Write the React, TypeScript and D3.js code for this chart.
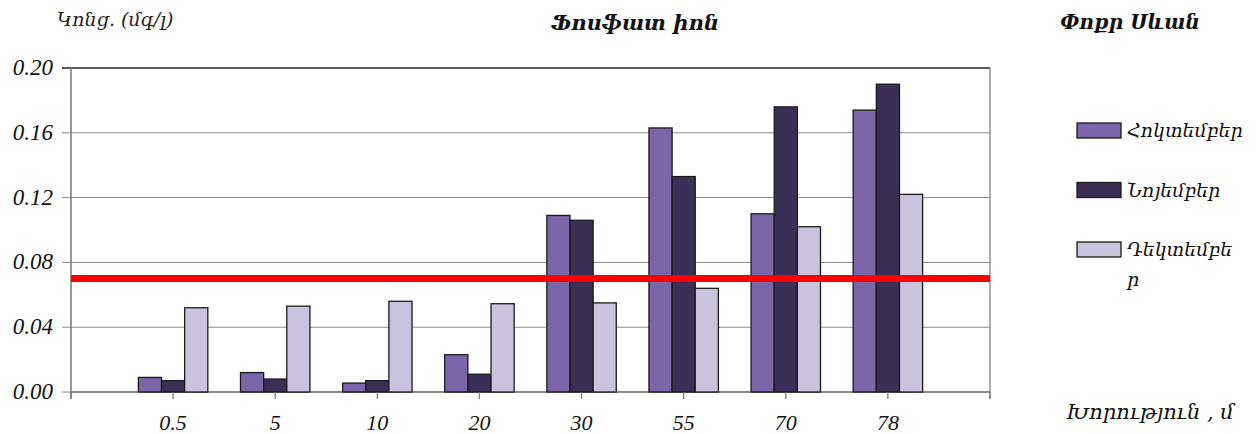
import * as d3 from 'd3'

const CATEGORIES = ['0.5', '5', '10', '20', '30', '55', '70', '78']
const SERIES = ['Հոկտեմբեր', 'Նոյեմբեր', 'Դեկտեմբեր']
const OCTOBER = [0.009, 0.012, 0.0055, 0.023, 0.109, 0.163, 0.11, 0.174]
const NOVEMBER = [0.007, 0.008, 0.007, 0.011, 0.106, 0.133, 0.176, 0.19]
const DECEMBER = [0.052, 0.053, 0.056, 0.0545, 0.055, 0.064, 0.102, 0.122]
const Y_TICKS = [0, 0.04, 0.08, 0.12, 0.16, 0.2]
const LIMIT = 0.07

const COLORS = ['#7a66a9', '#3b2f57', '#cbc3de']
const WIDTH = 1259
const HEIGHT = 434
const PLOT = { left: 71, right: 990, top: 68, bottom: 392 }
const ARM = '"DejaVu Serif", "Noto Sans", serif'
const NUM = '"Liberation Serif", "DejaVu Serif", serif'

export default function App() {
  const values = [OCTOBER, NOVEMBER, DECEMBER]

  const y = d3.scaleLinear().domain([0, 0.2]).range([PLOT.bottom, PLOT.top])
  const x = d3
    .scaleBand<string>()
    .domain(CATEGORIES)
    .range([PLOT.left, PLOT.right])
    .paddingInner(0.32)
    .paddingOuter(0.66)
  const inner = d3
    .scaleBand<number>()
    .domain([0, 1, 2])
    .range([0, x.bandwidth()])
  const edgeTicks = [PLOT.left, PLOT.right]

  return (
    <svg
      width={WIDTH}
      height={HEIGHT}
      style={{ position: 'absolute', left: 0, top: 0, background: '#fff' }}
    >
      {/* grid */}
      {Y_TICKS.map((t) => (
        <line
          key={t}
          x1={PLOT.left - 9}
          x2={PLOT.right}
          y1={y(t)}
          y2={y(t)}
          stroke={t === 0.2 ? '#222' : '#888'}
          strokeWidth={t === 0.2 ? 1.5 : 1}
        />
      ))}
      <line x1={PLOT.right} x2={PLOT.right} y1={PLOT.top} y2={PLOT.bottom + 7} stroke="#777" strokeWidth={1.2} />
      <line x1={PLOT.left} x2={PLOT.left} y1={PLOT.top} y2={PLOT.bottom + 7} stroke="#777" strokeWidth={1.5} />
      <line x1={PLOT.left} x2={PLOT.right} y1={PLOT.bottom} y2={PLOT.bottom} stroke="#777" strokeWidth={1.5} />

      {/* y tick labels */}
      {Y_TICKS.map((t) => (
        <text
          key={t}
          x={53}
          y={y(t) + 7}
          textAnchor="end"
          fontFamily={NUM}
          fontStyle="italic"
          fontSize={23}
          fill="#111"
        >
          {t.toFixed(2)}
        </text>
      ))}

      {/* bars */}
      {CATEGORIES.map((c, i) => (
        <g key={c} transform={`translate(${x(c)},0)`}>
          {values.map((vals, s) => (
            <rect
              key={s}
              x={inner(s)}
              y={y(vals[i])}
              width={inner.bandwidth()}
              height={PLOT.bottom - y(vals[i])}
              fill={COLORS[s]}
              stroke="#1a1a1a"
              strokeWidth={1.3}
            />
          ))}
        </g>
      ))}

      {/* x ticks */}
      {CATEGORIES.map((c) => {
        const cx = (x(c) ?? 0) + x.bandwidth() / 2
        return (
          <g key={c}>
            <line x1={cx} x2={cx} y1={PLOT.bottom} y2={PLOT.bottom + 7} stroke="#777" strokeWidth={1.2} />
            <text
              x={cx}
              y={430}
              textAnchor="middle"
              fontFamily={NUM}
              fontStyle="italic"
              fontSize={22}
              fill="#111"
            >
              {c}
            </text>
          </g>
        )
      })}
      {edgeTicks.map((ex) => (
        <line key={ex} x1={ex} x2={ex} y1={PLOT.bottom} y2={PLOT.bottom + 7} stroke="#777" strokeWidth={1.2} />
      ))}

      {/* limit line */}
      <line
        x1={PLOT.left}
        x2={PLOT.right}
        y1={y(LIMIT)}
        y2={y(LIMIT)}
        stroke="#ff0000"
        strokeWidth={7}
      />

      {/* titles */}
      <text x={57} y={26} fontFamily={ARM} fontStyle="italic" fontSize={19} fill="#222">
        Կոնց. (մգ/լ)
      </text>
      <text x={635} y={30} textAnchor="middle" fontFamily={ARM} fontStyle="italic" fontWeight="bold" fontSize={21} fill="#111">
        Ֆոսֆատ իոն
      </text>
      <text x={1130} y={29} textAnchor="middle" fontFamily={ARM} fontStyle="italic" fontWeight="bold" fontSize={20} fill="#111">
        Փոքր Սևան
      </text>
      <text x={1150} y={419} textAnchor="middle" fontFamily={ARM} fontStyle="italic" fontSize={21} fill="#111">
        Խորություն , մ
      </text>

      {/* legend */}
      {SERIES.map((name, s) => {
        const ly = 123 + s * 59.5
        const label = s === 2 ? ['Դեկտեմբե', 'ր'] : [name]
        return (
          <g key={name}>
            <rect x={1077} y={ly} width={44} height={15} fill={COLORS[s]} stroke="#1a1a1a" strokeWidth={1.3} />
            {label.map((l, k) => (
              <text
                key={k}
                x={1127}
                y={ly + 14 + k * 30}
                fontFamily={ARM}
                fontStyle="italic"
                fontSize={19}
                fill="#111"
              >
                {l}
              </text>
            ))}
          </g>
        )
      })}
    </svg>
  )
}
